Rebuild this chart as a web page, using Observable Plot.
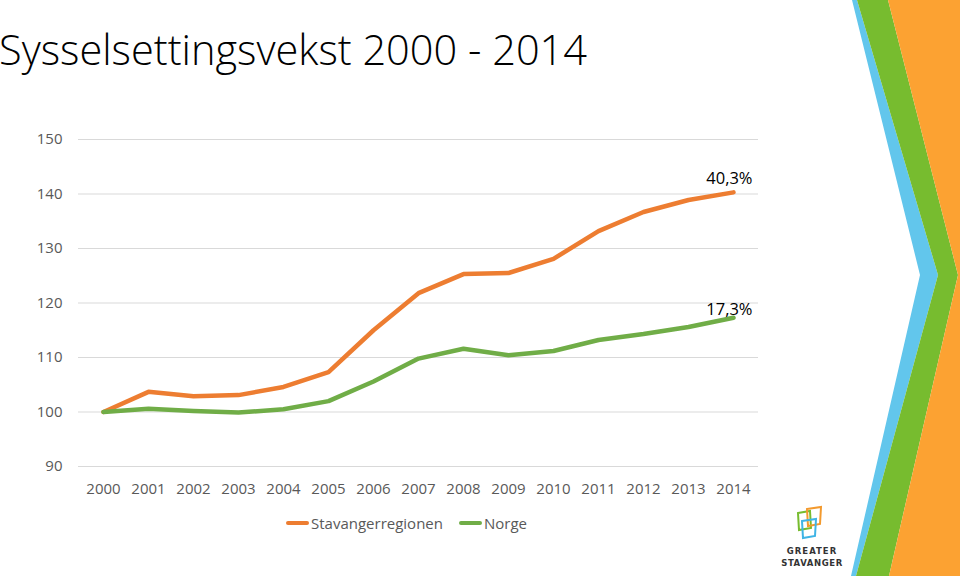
<!DOCTYPE html>
<html>
<head>
<meta charset="utf-8">
<script src="https://cdn.jsdelivr.net/npm/d3@7"></script>
<script src="https://cdn.jsdelivr.net/npm/@observablehq/plot@0.6"></script>
<style>
  html, body { margin: 0; padding: 0; background: #fff; overflow: hidden; }
  #page { position: relative; width: 960px; height: 576px; overflow: hidden; font-family: "Open Sans", sans-serif; }
  #deco { position: absolute; left: 0; top: 0; }
  #chart { position: absolute; left: 0; top: 100px; }
  #legend { position: absolute; top: 513px; left: 286px; display: flex; align-items: center; font-size: 15px; color: #595959; white-space: nowrap; }
  .sw { display: inline-block; width: 23px; height: 4px; border-radius: 2px; margin-right: 2px; }
  .item { display: flex; align-items: center; margin-right: 16px; }
</style>
</head>
<body>
<div id="page">
  <svg id="deco" width="960" height="576">
    <text x="-1" y="65" font-family="Open Sans" font-weight="300" font-size="42" fill="#000" textLength="588" lengthAdjust="spacingAndGlyphs">Sysselsettingsvekst 2000 - 2014</text>
    <polygon points="852,0 857,0 938,275 856,576 851,576 920,275" fill="#62C6EC"/>
    <polygon points="857,0 888,0 958,275 889,576 856,576 938,275" fill="#77BC2F"/>
    <polygon points="888,0 960,0 960,576 889,576 958,275" fill="#FCA232"/>
    <g fill="none" stroke-width="2">
      <path d="M798,513 L810,511 L811,528 L799,530 Z" stroke="#77BC2F"/>
      <path d="M807,509 L821,507 L820,524 L808,526 Z" stroke="#F39A2E"/>
      <path d="M802,521 L816,519 L815,536 L803,538 Z" stroke="#3FB4E5"/>
    </g>
    <text x="812" y="554" text-anchor="middle" font-family="DejaVu Sans" font-weight="bold" font-size="8.5" fill="#333" letter-spacing="1">GREATER</text>
    <text x="812" y="566" text-anchor="middle" font-family="DejaVu Sans" font-weight="bold" font-size="8.5" fill="#333" letter-spacing="0.6">STAVANGER</text>
  </svg>
  <div id="chart"></div>
  <div id="legend"></div>
</div>
<script>
const years = [2000, 2001, 2002, 2003, 2004, 2005, 2006, 2007, 2008, 2009, 2010, 2011, 2012, 2013, 2014];
const stavangerregionen = [100, 103.7, 102.9, 103.1, 104.6, 107.3, 115.0, 121.8, 125.3, 125.5, 128.1, 133.2, 136.7, 138.9, 140.3];
const norge = [100, 100.6, 100.2, 99.9, 100.5, 102.0, 105.6, 109.8, 111.6, 110.4, 111.2, 113.2, 114.3, 115.6, 117.3];
const seriesNames = ["Stavangerregionen", "Norge"];
const seriesColors = ["#ED7D31", "#70AD47"];
const yTicks = [90, 100, 110, 120, 130, 140, 150];
const endLabels = ["40,3%", "17,3%"];

const rows = [
  ...years.map((yr, i) => ({year: yr, value: stavangerregionen[i], series: seriesNames[0]})),
  ...years.map((yr, i) => ({year: yr, value: norge[i], series: seriesNames[1]}))
];
const last = years.length - 1;
const lab1 = [{year: years[last], value: stavangerregionen[last], text: endLabels[0]}];
const lab2 = [{year: years[last], value: norge[last], text: endLabels[1]}];

const chart = Plot.plot({
  width: 780,
  height: 420,
  marginLeft: 78,
  marginRight: 22,
  marginTop: 39,
  marginBottom: 54,
  style: {fontFamily: "Open Sans", fontSize: "15px", color: "#595959", background: "transparent"},
  x: {type: "point", domain: years, padding: 0.5},
  y: {domain: [90, 150]},
  color: {domain: seriesNames, range: seriesColors},
  marks: [
    Plot.ruleY(yTicks, {stroke: "#d9d9d9", strokeWidth: 1}),
    Plot.axisX({tickSize: 0, tickPadding: 17, fontSize: 15, label: null, tickFormat: d => String(d)}),
    Plot.axisY({ticks: yTicks, tickSize: 0, tickPadding: 16, fontSize: 15, label: null}),
    Plot.line(rows, {x: "year", y: "value", z: "series", stroke: "series", strokeWidth: 4.5, strokeLinejoin: "round", strokeLinecap: "round"}),
    Plot.text(lab1, {x: "year", y: "value", text: "text", dx: 19, dy: -14, textAnchor: "end", fontSize: 16.5, fill: "#000"}),
    Plot.text(lab2, {x: "year", y: "value", text: "text", dx: 19, dy: -8, textAnchor: "end", fontSize: 16.5, fill: "#000"})
  ]
});
document.getElementById("chart").appendChild(chart);

const legend = document.getElementById("legend");
seriesNames.forEach((name, i) => {
  const it = document.createElement("span");
  it.className = "item";
  const sw = document.createElement("span");
  sw.className = "sw";
  sw.style.background = seriesColors[i];
  it.appendChild(sw);
  it.appendChild(document.createTextNode(name));
  legend.appendChild(it);
});
</script>
</body>
</html>
